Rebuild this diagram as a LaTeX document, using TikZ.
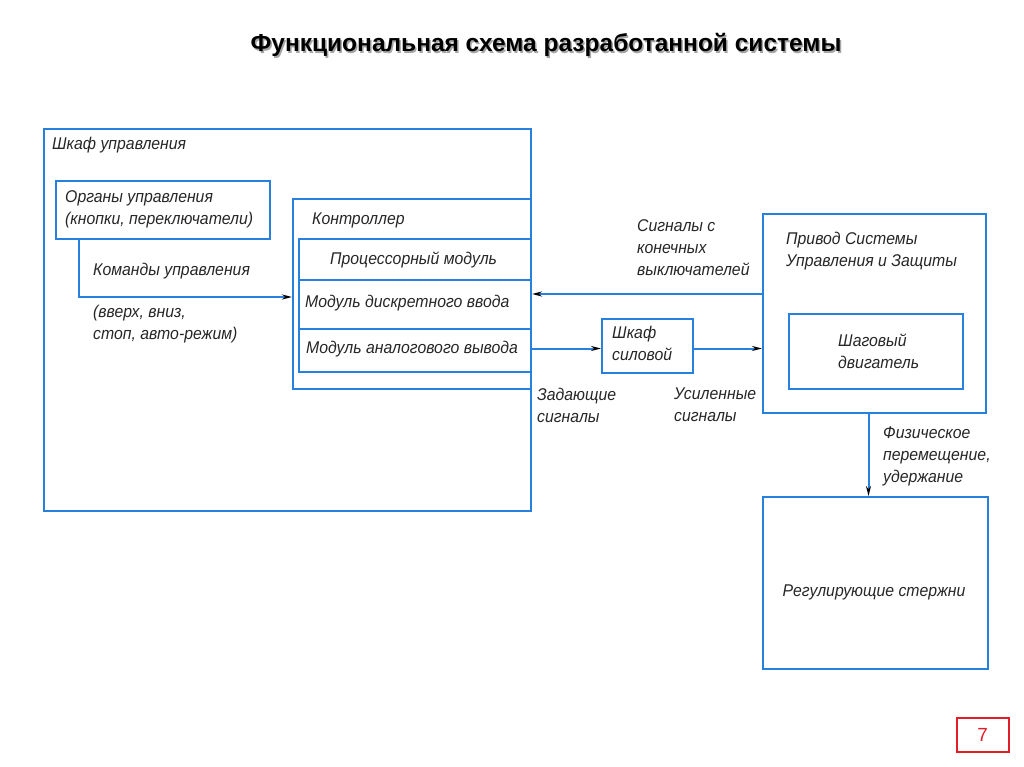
\documentclass[tikz,border=0pt]{standalone}
\usepackage{fontspec}
\setmainfont{Liberation Sans}
\newfontfamily\gost{Liberation Sans}[FakeStretch=0.93]
\usetikzlibrary{arrows.meta,calc}
\definecolor{bx}{RGB}{40,128,222}
\definecolor{pg}{RGB}{225,30,40}
\tikzset{
 box/.style={draw=bx,line width=2pt,inner sep=0pt,anchor=north west},
 lbl/.style={font=\gost\itshape\fontsize{17}{22}\selectfont, text=black!85, anchor=west, inner sep=0pt, align=left},
 conn/.style={draw=bx,line width=2pt,-{Stealth[black,length=10pt,width=5pt]}},
}
\begin{document}
\begin{tikzpicture}[x=1pt,y=-1pt]
\useasboundingbox (0,0) rectangle (1024,767);
% title
\node[font=\bfseries\fontsize{24.5}{28}\selectfont, text=black!35] (titlesh) at (547.5,46.5) {Функциональная схема разработанной системы};
\node[font=\bfseries\fontsize{24.5}{28}\selectfont] (title) at (546,45) {Функциональная схема разработанной системы};
% cabinet
\node[box,minimum width=487pt,minimum height=382pt] (cab) at (43,128) {};
\node[lbl] (cabl) at (52,145) {Шкаф управления};
\node[box,minimum width=214pt,minimum height=58pt] (org) at (55,180) {};
\node[lbl] (orgl) at (65,209) {Органы управления\\(кнопки, переключатели)};
% controller
\node[box,minimum width=238pt,minimum height=190pt] (ctrl) at (292,198) {};
\node[lbl] (ctrll) at (312,220) {Контроллер};
\node[box,minimum width=232pt,minimum height=41pt] (cpu) at (298,238) {};
\node[box,minimum width=232pt,minimum height=49pt] (din) at (298,279) {};
\node[box,minimum width=232pt,minimum height=43pt] (aout) at (298,328) {};
\node[lbl] (cpul) at (330,260) {Процессорный модуль};
\node[lbl] (dinl) at (305,303) {Модуль дискретного ввода};
\node[lbl] (aoutl) at (306,349) {Модуль аналогового вывода};
% commands
\node[lbl] (cmdl) at (93,271) {Команды управления};
\node[lbl] (cmd2) at (93,324) {(вверх, вниз,\\стоп, авто-режим)};
% power cabinet
\node[box,minimum width=91pt,minimum height=54pt] (sil) at (601,318) {};
\node[lbl] (sill) at (612,343) {Шкаф\\силовой};
% drive
\node[box,minimum width=223pt,minimum height=199pt] (priv) at (762,213) {};
\node[lbl] (privl) at (786,251) {Привод Системы\\Управления и Защиты};
\node[box,minimum width=174pt,minimum height=75pt] (step) at (788,313) {};
\node[lbl] (stepl) at (838,351) {Шаговый\\двигатель};
% rods
\node[box,minimum width=225pt,minimum height=172pt] (rods) at (762,496) {};
\node[lbl,anchor=center] (rodsl) at (874,592) {Регулирующие стержни};
% signal labels
\node[lbl] (lim) at (637,248) {Сигналы с\\конечных\\выключателей};
\node[lbl] (zad) at (537,405) {Задающие\\сигналы};
\node[lbl] (usil) at (674,405) {Усиленные\\сигналы};
\node[lbl] (phys) at (883,456) {Физическое\\перемещение,\\удержание};
% connectors
\draw[conn] ([xshift=24pt]org.south west) |- ([yshift=-3pt]ctrl.west);
\draw[conn] (priv.west |- ctrl.west) -- (cab.east |- ctrl.west);
\draw[conn] ([yshift=2pt]aout.east) -- ([yshift=2pt]sil.west |- aout.east);
\draw[conn] ([yshift=2pt]sil.east |- aout.east) -- ([yshift=2pt]priv.west |- aout.east);
\draw[conn] ([xshift=-6pt]priv.south) -- ([xshift=-6pt]priv.south |- rods.north);
% page number
\node[draw=pg,line width=1.5pt,minimum width=52pt,minimum height=34pt,inner sep=0pt,anchor=north west,text=pg,font=\fontsize{19}{20}\selectfont] (page) at (956,717) {7};
\end{tikzpicture}
\end{document}
